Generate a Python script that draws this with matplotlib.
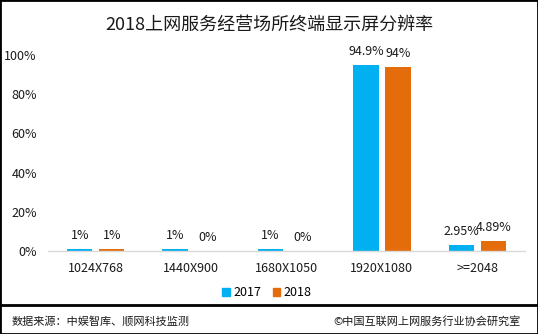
import matplotlib
matplotlib.use("Agg")
import matplotlib.pyplot as plt
from matplotlib.patches import Patch, Rectangle
from matplotlib.lines import Line2D
import numpy as np

plt.rcParams['font.family'] = ['Noto Sans CJK SC', 'DejaVu Sans']

categories = ["1024X768", "1440X900", "1680X1050", "1920X1080", ">=2048"]
values_2017 = [1.0, 1.0, 1.0, 94.9, 2.95]
values_2018 = [1.0, 0.0, 0.0, 94.0, 4.89]
labels_2017 = ["1%", "1%", "1%", "94.9%", "2.95%"]
labels_2018 = ["1%", "0%", "0%", "94%", "4.89%"]
series_names = ["2017", "2018"]
yticks = [0, 20, 40, 60, 80, 100]

title = "2018上网服务经营场所终端显示屏分辨率"
source_left = "数据来源：中娱智库、顺网科技监测"
source_right = "©中国互联网上网服务行业协会研究室"

blue = "#00B0F0"
orange = "#E46C0A"

W, H = 538, 334
fig = plt.figure(figsize=(W / 100, H / 100), dpi=100)
ax = fig.add_axes([48 / W, 1 - 251 / H, 477 / W, 196 / H])

x = np.arange(len(categories))
bw = 0.265
off = 0.168
ax.bar(x - off, values_2017, bw, color=blue)
ax.bar(x + off, values_2018, bw, color=orange)

for xi, v, lab in zip(x - off, values_2017, labels_2017):
    ax.annotate(lab, (xi, v), xytext=(0, 5), textcoords="offset points",
                ha="center", va="bottom", fontsize=9, color="#1a1a1a")
for xi, v, lab in zip(x + off, values_2018, labels_2018):
    ax.annotate(lab, (xi, v), xytext=(0, 5), textcoords="offset points",
                ha="center", va="bottom", fontsize=9, color="#1a1a1a")

ax.set_xlim(-0.5, len(categories) - 0.5)
ax.set_ylim(0, 100)
ax.set_yticks(yticks)
ax.set_yticklabels([f"{t}%" for t in yticks])
ax.set_xticks(x)
ax.set_xticklabels(categories)
ax.tick_params(axis="both", length=0, labelsize=9, colors="#1a1a1a")
ax.tick_params(axis="y", pad=8)
ax.tick_params(axis="x", pad=8)
for s in ["top", "right", "left"]:
    ax.spines[s].set_visible(False)
ax.spines["bottom"].set_color("#D9D9D9")
ax.spines["bottom"].set_linewidth(1)

fig.text(0.5, 1 - 25 / H, title, ha="center", va="center", fontsize=13, color="#1a1a1a")

handles = [Patch(color=blue), Patch(color=orange)]
fig.legend(handles, series_names, loc="center", bbox_to_anchor=(267 / W, 1 - 293 / H),
           ncol=2, frameon=False, fontsize=9, handlelength=0.6, handleheight=0.6,
           handletextpad=0.3, columnspacing=0.9)

fig.add_artist(Line2D([0, 1], [1 - 305 / H, 1 - 305 / H], color="black", lw=2,
                      transform=fig.transFigure))
fig.text(12 / W, 1 - 321 / H, source_left, ha="left", va="center", fontsize=8, color="#1a1a1a")
fig.text(521 / W, 1 - 321 / H, source_right, ha="right", va="center", fontsize=8, color="#1a1a1a")

fig.add_artist(Rectangle((0, 0), 1, 1, transform=fig.transFigure, fill=False,
                         edgecolor="black", lw=2))

fig.savefig("out.png", dpi=100)
